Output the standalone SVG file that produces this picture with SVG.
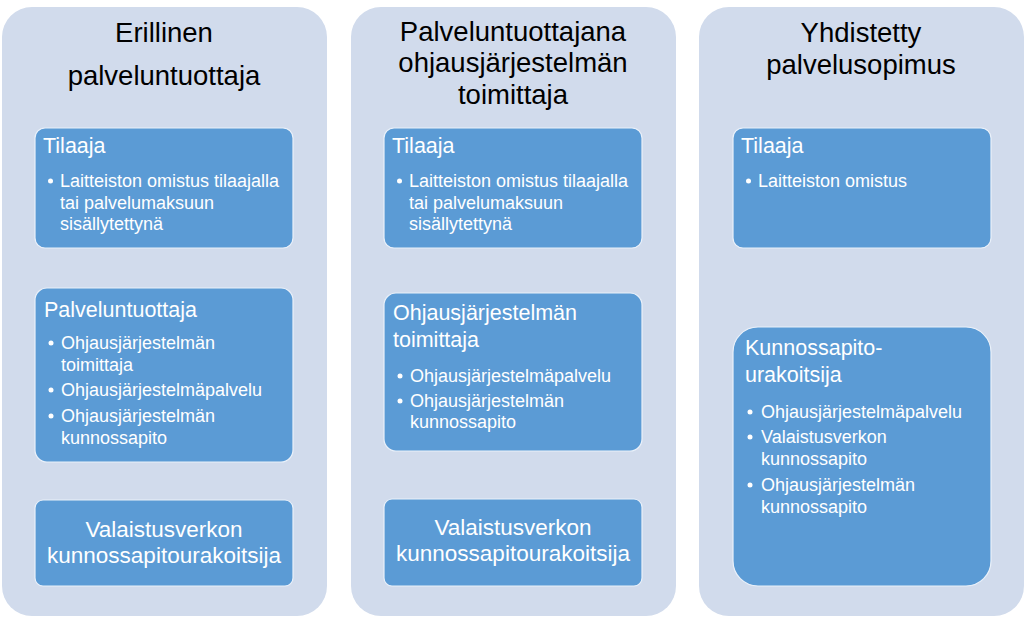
<svg xmlns="http://www.w3.org/2000/svg" width="1024" height="627" viewBox="0 0 1024 627">
<style>
.bg{fill:#D1DBEC;}
.box{fill:#5B9BD5;stroke:#EAF1FA;stroke-width:1.2;}
text{font-family:"Liberation Sans",Arial,sans-serif;}
.title{font-size:27.5px;fill:#000;text-anchor:middle;}
.head{font-size:21.5px;fill:#fff;}
.bul{font-size:18px;fill:#fff;}
.big{font-size:22.5px;fill:#fff;text-anchor:middle;}
.dot{fill:#fff;}
</style>
<rect width="1024" height="627" fill="#fff"/>
<g id="col1">
<rect class="bg" x="2" y="7" width="325" height="609" rx="30"/>
<text class="title" x="164" y="42">Erillinen</text>
<text class="title" x="164" y="85">palveluntuottaja</text>
</g>
<g id="col2">
<rect class="bg" x="351" y="7" width="325" height="609" rx="30"/>
<text class="title" x="513" y="41">Palveluntuottajana</text>
<text class="title" x="513" y="72">ohjausjärjestelmän</text>
<text class="title" x="513" y="104">toimittaja</text>
</g>
<g id="col3">
<rect class="bg" x="699" y="7" width="325" height="609" rx="30"/>
<text class="title" x="861" y="42">Yhdistetty</text>
<text class="title" x="861" y="74">palvelusopimus</text>
</g>
<g id="c1-tilaaja">
<rect class="box" x="35" y="128" width="258" height="120" rx="10"/>
<text class="head" x="43" y="153">Tilaaja</text>
<circle class="dot" cx="50.5" cy="181" r="2.5"/>
<text class="bul" x="60" y="187">Laitteiston omistus tilaajalla</text>
<text class="bul" x="60" y="209">tai palvelumaksuun</text>
<text class="bul" x="60" y="230">sisällytettynä</text>
</g>
<g id="c1-palveluntuottaja">
<rect class="box" x="35" y="288" width="258" height="174" rx="12"/>
<text class="head" x="44" y="317">Palveluntuottaja</text>
<circle class="dot" cx="51" cy="343" r="2.5"/>
<text class="bul" x="61" y="349">Ohjausjärjestelmän</text>
<text class="bul" x="61" y="371">toimittaja</text>
<circle class="dot" cx="51" cy="390" r="2.5"/>
<text class="bul" x="61" y="396">Ohjausjärjestelmäpalvelu</text>
<circle class="dot" cx="51" cy="416" r="2.5"/>
<text class="bul" x="61" y="422">Ohjausjärjestelmän</text>
<text class="bul" x="61" y="444">kunnossapito</text>
</g>
<g id="c1-valaistus">
<rect class="box" x="35" y="500" width="258" height="86" rx="8"/>
<text class="big" x="164" y="537">Valaistusverkon</text>
<text class="big" x="164" y="563">kunnossapitourakoitsija</text>
</g>
<g id="c2-tilaaja">
<rect class="box" x="384" y="128" width="258" height="120" rx="10"/>
<text class="head" x="392" y="153">Tilaaja</text>
<circle class="dot" cx="399.5" cy="181" r="2.5"/>
<text class="bul" x="409" y="187">Laitteiston omistus tilaajalla</text>
<text class="bul" x="409" y="209">tai palvelumaksuun</text>
<text class="bul" x="409" y="230">sisällytettynä</text>
</g>
<g id="c2-ohjaus">
<rect class="box" x="384" y="293" width="258" height="158" rx="12"/>
<text class="head" x="393" y="320">Ohjausjärjestelmän</text>
<text class="head" x="393" y="347">toimittaja</text>
<circle class="dot" cx="400" cy="376" r="2.5"/>
<text class="bul" x="410" y="382">Ohjausjärjestelmäpalvelu</text>
<circle class="dot" cx="400" cy="401" r="2.5"/>
<text class="bul" x="410" y="407">Ohjausjärjestelmän</text>
<text class="bul" x="410" y="428">kunnossapito</text>
</g>
<g id="c2-valaistus">
<rect class="box" x="384" y="499" width="258" height="87" rx="8"/>
<text class="big" x="513" y="535">Valaistusverkon</text>
<text class="big" x="513" y="561">kunnossapitourakoitsija</text>
</g>
<g id="c3-tilaaja">
<rect class="box" x="733" y="128" width="258" height="120" rx="10"/>
<text class="head" x="741" y="153">Tilaaja</text>
<circle class="dot" cx="748.5" cy="181" r="2.5"/>
<text class="bul" x="758" y="187">Laitteiston omistus</text>
</g>
<g id="c3-kunnossapito">
<rect class="box" x="733" y="327" width="258" height="259" rx="25"/>
<text class="head" x="745" y="355">Kunnossapito-</text>
<text class="head" x="745" y="382">urakoitsija</text>
<circle class="dot" cx="750" cy="412" r="2.5"/>
<text class="bul" x="761" y="418">Ohjausjärjestelmäpalvelu</text>
<circle class="dot" cx="750" cy="437" r="2.5"/>
<text class="bul" x="761" y="443">Valaistusverkon</text>
<text class="bul" x="761" y="465">kunnossapito</text>
<circle class="dot" cx="750" cy="485" r="2.5"/>
<text class="bul" x="761" y="491">Ohjausjärjestelmän</text>
<text class="bul" x="761" y="513">kunnossapito</text>
</g>
<g id="connectors"></g>
</svg>
